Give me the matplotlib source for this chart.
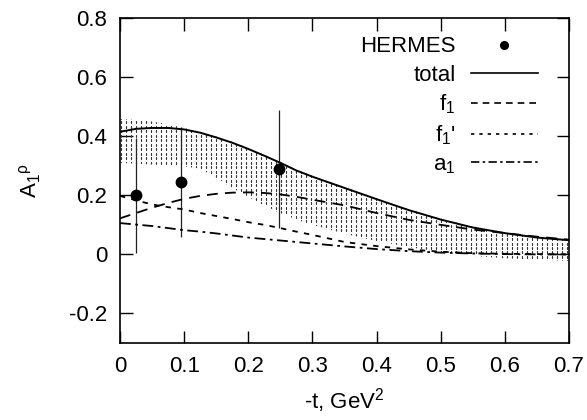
import numpy as np
import matplotlib.pyplot as plt
from matplotlib.lines import Line2D

plt.rcParams['font.family'] = ['Liberation Sans', 'DejaVu Sans']
plt.rcParams['mathtext.fontset'] = 'custom'
plt.rcParams['mathtext.rm'] = 'Liberation Sans'
plt.rcParams['mathtext.it'] = 'Liberation Sans'

# curves
t = [0.0, 0.025, 0.05, 0.075, 0.1, 0.125, 0.15, 0.175, 0.2, 0.225, 0.25, 0.275, 0.3,
     0.35, 0.4, 0.45, 0.5, 0.55, 0.6, 0.65, 0.7]
total = [0.415, 0.425, 0.428, 0.428, 0.423, 0.412, 0.396, 0.378, 0.357, 0.334, 0.31, 0.284, 0.263,
         0.225, 0.187, 0.15, 0.118, 0.091, 0.072, 0.057, 0.048]
f1 = [0.122, 0.14, 0.158, 0.174, 0.188, 0.198, 0.205, 0.209, 0.21, 0.208, 0.203, 0.195, 0.185,
      0.166, 0.14, 0.117, 0.1, 0.084, 0.072, 0.06, 0.05]
f1p = [0.198, 0.183, 0.169, 0.16, 0.152, 0.14, 0.13, 0.12, 0.109, 0.1, 0.089, 0.077, 0.066,
       0.042, 0.028, 0.017, 0.009, 0.004, 0.002, 0.001, 0.0]
a1 = [0.106, 0.101, 0.096, 0.089, 0.082, 0.077, 0.071, 0.064, 0.057, 0.052, 0.047, 0.042, 0.037,
      0.027, 0.018, 0.011, 0.006, 0.003, 0.001, 0.0, 0.0]
band_hi = [0.458, 0.455, 0.45, 0.44, 0.428, 0.415, 0.399, 0.381, 0.36, 0.337, 0.313, 0.287, 0.266,
           0.228, 0.19, 0.153, 0.121, 0.094, 0.075, 0.06, 0.051]
band_lo = [0.31, 0.307, 0.304, 0.301, 0.298, 0.29, 0.26, 0.225, 0.195, 0.165, 0.14, 0.118, 0.1,
           0.07, 0.045, 0.025, 0.008, -0.005, -0.013, -0.018, -0.022]

# HERMES data
t_data = [0.025, 0.095, 0.248]
a_data = [0.20, 0.244, 0.29]
a_err = [0.195, 0.185, 0.20]

fig = plt.figure(figsize=(5.87, 4.2), dpi=100)
ax = fig.add_axes([0.2044, 0.1833, 0.7649, 0.7737])

# uncertainty band: dot grid clipped to the band outline
band = ax.fill_between(t, band_lo, band_hi, facecolor='none', linewidth=0)
gx, gy = np.meshgrid(np.arange(0.002, 0.7, 0.0078), np.arange(-0.1, 0.5, 0.0152))
dots, = ax.plot(gx.ravel(), gy.ravel(), 's', color='#3a3a3a', ms=0.9, mew=0)
dots.set_clip_path(band.get_paths()[0], ax.transData)

ax.errorbar(t_data, a_data, yerr=a_err, fmt='none', ecolor='#222222',
            elinewidth=0.9, capsize=0)
ax.plot(t_data, a_data, 'o', color='black', ms=7.5)

ax.plot(t, total, color='black', lw=1.4)
ax.plot(t, f1, color='black', lw=1.3, dashes=(6, 4))
ax.plot(t, f1p, color='black', lw=1.3, dashes=(3, 3.5))
ax.plot(t, a1, color='black', lw=1.3, dashes=(6, 2.5, 1.5, 2.5))

ax.set_xlim(0, 0.7)
ax.set_ylim(-0.3, 0.8)
ax.set_xticks(np.arange(0, 0.71, 0.1))
ax.set_xticklabels(['0', '0.1', '0.2', '0.3', '0.4', '0.5', '0.6', '0.7'])
ax.set_yticks([-0.2, 0, 0.2, 0.4, 0.6, 0.8])
ax.set_yticklabels(['-0.2', '0', '0.2', '0.4', '0.6', '0.8'])
ax.tick_params(direction='in', length=9, width=1, top=True, right=True,
               labelsize=16, pad=9)
for s in ax.spines.values():
    s.set_linewidth(1.2)

ax.set_xlabel('-t, GeV$^2$', fontsize=16, labelpad=7)
ax.set_ylabel(r'A$_1$$^\rho$', fontsize=16, labelpad=19)

# legend in gnuplot style: text on the left, sample on the right
handles = [
    Line2D([], [], ls='none', marker='o', color='black', ms=5.5),
    Line2D([], [], color='black', lw=1.2),
    Line2D([], [], color='black', lw=1.2, dashes=(4, 3)),
    Line2D([], [], color='black', lw=1.2, dashes=(2, 3)),
    Line2D([], [], color='black', lw=1.2, dashes=(5, 2, 1.5, 2)),
]
labels = ['HERMES', 'total', 'f$_1$', "f$_1$'", 'a$_1$']
leg = ax.legend(handles, labels, loc='upper right', bbox_to_anchor=(0.975, 1.005),
                frameon=False, markerfirst=False, fontsize=16, handlelength=3.0,
                labelspacing=0.32, handletextpad=0.7)
for txt in leg.get_texts():
    txt.set_ha('right')

fig.savefig('out.png', dpi=100)
